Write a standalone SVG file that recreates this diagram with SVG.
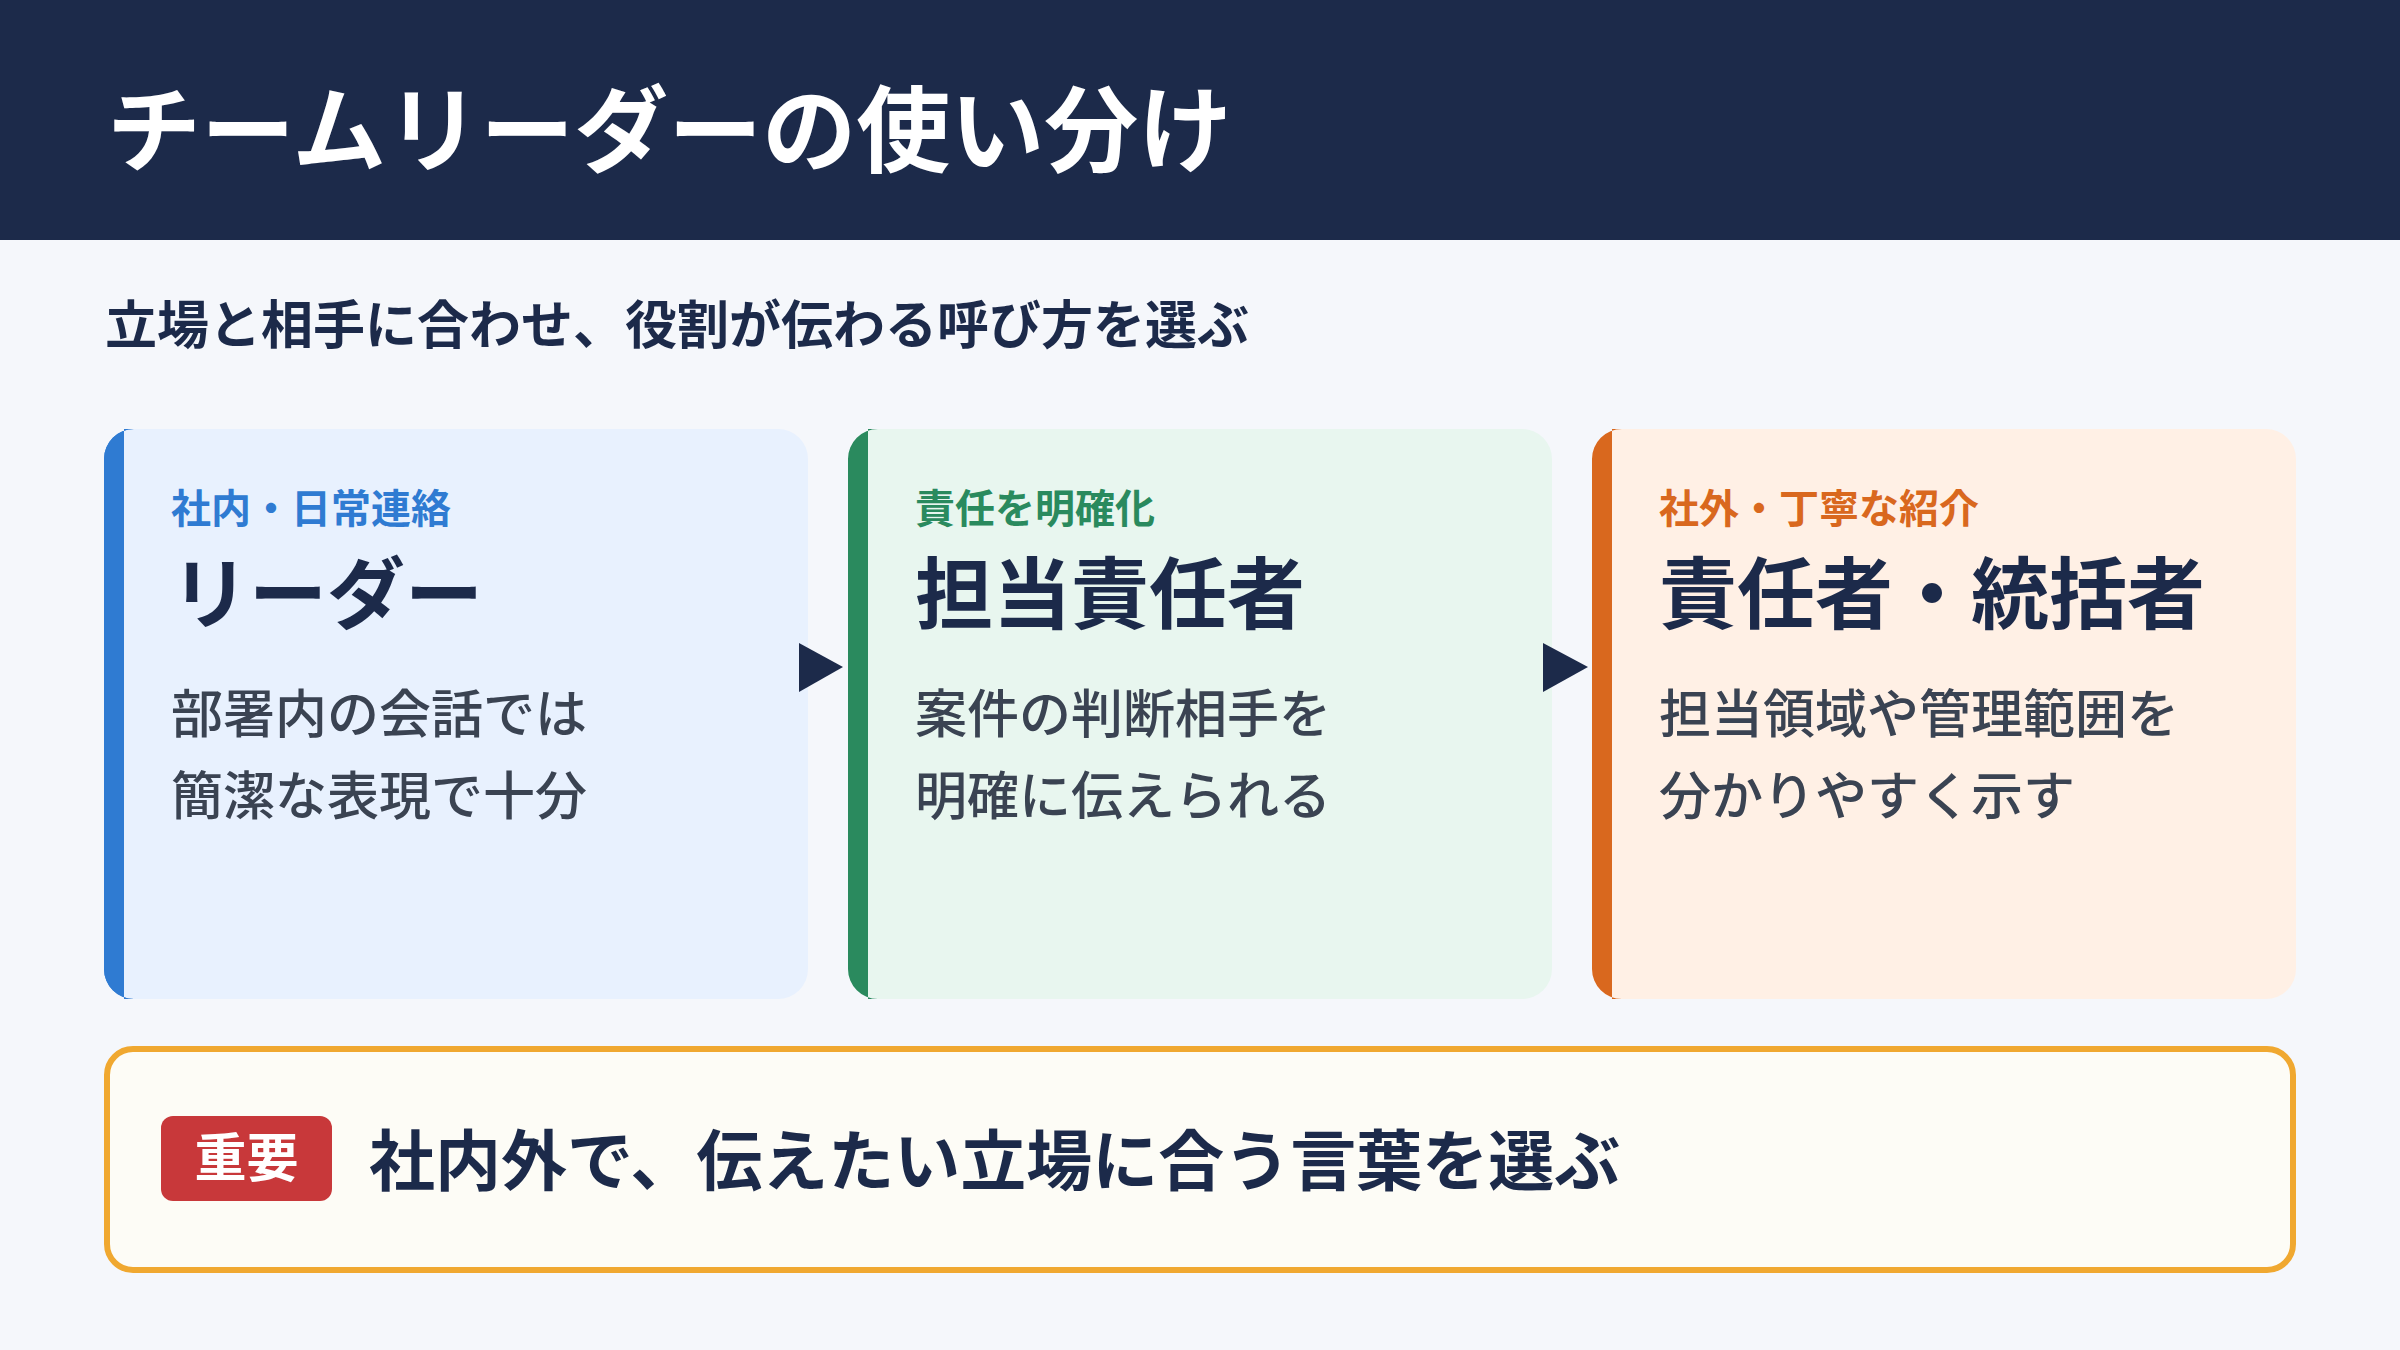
<svg xmlns="http://www.w3.org/2000/svg" width="2400" height="1350" viewBox="0 0 2400 1350">
<style>
text{font-family:"Noto Sans CJK JP","Noto Sans",sans-serif;font-weight:700}
.lab{font-size:40px}
.ttl{font-size:78px;fill:#1c2a4a}
.body{font-size:52px;fill:#3a4352;font-weight:500}
</style>
<rect width="2400" height="1350" fill="#f5f7fb"/>
<rect width="2400" height="240" fill="#1c2a4a"/>
<text x="107" y="165" font-size="94" fill="#ffffff">チームリーダーの使い分け</text>
<text x="105" y="344" font-size="52" fill="#1c2a4a">立場と相手に合わせ、役割が伝わる呼び方を選ぶ</text>
<g id="card1">
<rect x="104" y="429" width="704" height="570" rx="30" fill="#e8f1fe"/>
<path d="M134 429 H124 V999 H134 A30 30 0 0 1 104 969 V459 A30 30 0 0 1 134 429Z" fill="#2f7bd2"/>
<path d="M134 429 A30 30 0 0 0 104 459 V969 A30 30 0 0 0 134 999 H124 V429Z" fill="#2f7bd2"/>
<text x="171" y="523" class="lab" fill="#2f7bd2">社内・日常連絡</text>
<text x="171" y="623" class="ttl">リーダー</text>
<text x="171" y="733" class="body">部署内の会話では</text>
<text x="171" y="815" class="body">簡潔な表現で十分</text>
</g>
<g id="card2">
<rect x="848" y="429" width="704" height="570" rx="30" fill="#e8f6ef"/>
<path d="M878 429 A30 30 0 0 0 848 459 V969 A30 30 0 0 0 878 999 H868 V429Z" fill="#2a8a5e"/>
<text x="915" y="523" class="lab" fill="#2a8a5e">責任を明確化</text>
<text x="915" y="623" class="ttl">担当責任者</text>
<text x="915" y="733" class="body">案件の判断相手を</text>
<text x="915" y="815" class="body">明確に伝えられる</text>
</g>
<g id="card3">
<rect x="1592" y="429" width="704" height="570" rx="30" fill="#fff0e5"/>
<path d="M1622 429 A30 30 0 0 0 1592 459 V969 A30 30 0 0 0 1622 999 H1612 V429Z" fill="#d9681e"/>
<text x="1659" y="523" class="lab" fill="#d9681e">社外・丁寧な紹介</text>
<text x="1659" y="623" class="ttl">責任者・統括者</text>
<text x="1659" y="733" class="body">担当領域や管理範囲を</text>
<text x="1659" y="815" class="body">分かりやすく示す</text>
</g>
<g id="connectors" fill="#1c2a4a">
<polygon points="799,643 843,667 799,692"/>
<polygon points="1543,643 1588,667 1543,692"/>
</g>
<g id="note">
<rect x="107" y="1049" width="2186" height="221" rx="26" fill="#fdfcf6" stroke="#f0a830" stroke-width="6"/>
<rect x="161" y="1116" width="171" height="85" rx="12" fill="#c8383a"/>
<text x="246.5" y="1177" font-size="52" fill="#ffffff" text-anchor="middle">重要</text>
<text x="369" y="1185" font-size="66" fill="#1c2a4a">社内外で、伝えたい立場に合う言葉を選ぶ</text>
</g>
</svg>
